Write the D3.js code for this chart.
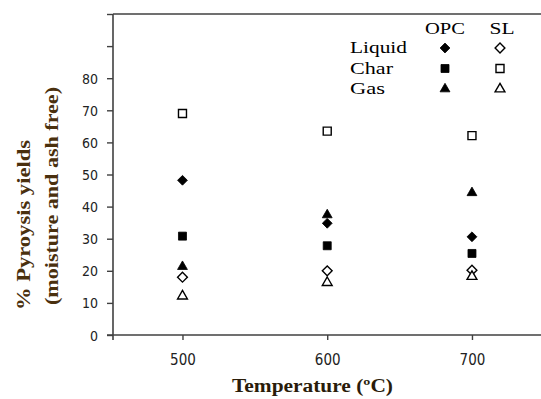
<!DOCTYPE html>
<html>
<head>
<meta charset="utf-8">
<script src="https://cdn.jsdelivr.net/npm/d3@7"></script>
<style>
body { margin: 0; background: #fff; }
svg { display: block; }
</style>
</head>
<body>
<svg width="541" height="399"></svg>
<script>
var temps = [500, 600, 700];
var opcLiquid = [48.2, 34.8, 30.6];
var opcChar = [30.8, 27.8, 25.4];
var opcGas = [21.3, 37.4, 44.3];
var slLiquid = [18.0, 20.0, 20.2];
var slChar = [69.0, 63.5, 62.1];
var slGas = [12.1, 16.3, 18.2];
var yTicks = [0, 10, 20, 30, 40, 50, 60, 70, 80, 90, 100];
var yLabels = [0, 10, 20, 30, 40, 50, 60, 70, 80];
var xTicks = [500, 600, 700];

var svg = d3.select("svg");
var axisColor = "#404040";
var serif = "'Liberation Serif', 'Times New Roman', Times, serif";
var narrow = "'Liberation Sans Narrow', 'Arial Narrow', 'DejaVu Sans Condensed', sans-serif";

var x = d3.scaleLinear().domain([452, 747]).range([113, 540]);
var y = d3.scaleLinear().domain([0, 100]).range([335, 14]);

// frame lines
svg.append("line")
    .attr("x1", x(452)).attr("x2", x(452))
    .attr("y1", y(100)).attr("y2", y(0) + 5)
    .attr("stroke", axisColor).attr("stroke-width", 1.6);
svg.append("line")
    .attr("x1", x(452) - 6).attr("x2", 541)
    .attr("y1", y(0)).attr("y2", y(0))
    .attr("stroke", axisColor).attr("stroke-width", 1.6);
svg.append("line")
    .attr("x1", x(452)).attr("x2", 541)
    .attr("y1", y(100)).attr("y2", y(100))
    .attr("stroke", axisColor).attr("stroke-width", 1.6);

var yAxis = svg.append("g")
    .attr("transform", "translate(" + x(452) + ",0)")
    .call(d3.axisLeft(y).tickValues(yTicks).tickSize(6).tickSizeOuter(0)
        .tickFormat(function(d) { return yLabels.indexOf(d) >= 0 ? d : ""; }));
yAxis.select(".domain").remove();
yAxis.selectAll(".tick line").attr("stroke", axisColor).attr("stroke-width", 1.4);
yAxis.selectAll(".tick text")
    .attr("x", -15)
    .attr("dy", "0.36em")
    .style("font-family", narrow)
    .style("font-size", "14px")
    .attr("fill", "#222");

var xAxis = svg.append("g")
    .attr("transform", "translate(0," + y(0) + ")")
    .call(d3.axisBottom(x).tickValues(xTicks).tickSize(5).tickSizeOuter(0));
xAxis.select(".domain").remove();
xAxis.selectAll(".tick line").attr("stroke", axisColor).attr("stroke-width", 1.4);
xAxis.selectAll(".tick text")
    .attr("y", 19)
    .attr("dy", "0.71em")
    .style("font-family", narrow)
    .style("font-size", "15px")
    .attr("fill", "#222");

// axis titles
svg.append("text")
    .attr("x", 232).attr("y", 392)
    .attr("textLength", 161).attr("lengthAdjust", "spacingAndGlyphs")
    .style("font-family", serif)
    .style("font-weight", "bold")
    .style("font-size", "18px")
    .attr("fill", "#2a1c0a")
    .text("Temperature (\u00baC)");

svg.append("text")
    .attr("transform", "translate(30,310) rotate(-90)")
    .attr("textLength", 170).attr("lengthAdjust", "spacingAndGlyphs")
    .style("font-family", serif)
    .style("font-weight", "bold")
    .style("font-size", "18px")
    .attr("fill", "#4a300e")
    .text("% Pyroysis yields");

svg.append("text")
    .attr("transform", "translate(58,305) rotate(-90)")
    .attr("textLength", 218).attr("lengthAdjust", "spacingAndGlyphs")
    .style("font-family", serif)
    .style("font-weight", "bold")
    .style("font-size", "18px")
    .attr("fill", "#4a300e")
    .text("(moisture and ash free)");

// markers
var diamond = d3.symbol().type(d3.symbolSquare).size(48)();
var square = d3.symbol().type(d3.symbolSquare).size(64)();
var triangle = d3.symbol().type(d3.symbolTriangle).size(42)();

var series = [
    {vals: opcLiquid, path: diamond, rot: 45, filled: true},
    {vals: opcChar, path: square, rot: 0, filled: true},
    {vals: opcGas, path: triangle, rot: 0, filled: true},
    {vals: slLiquid, path: diamond, rot: 45, filled: false},
    {vals: slChar, path: square, rot: 0, filled: false},
    {vals: slGas, path: triangle, rot: 0, filled: false}
];

function drawMarker(g, s, cx, cy) {
    g.append("path")
        .attr("d", s.path)
        .attr("transform", "translate(" + cx + "," + cy + ") rotate(" + s.rot + ")")
        .attr("fill", s.filled ? "#000" : "#fff")
        .attr("stroke", "#000")
        .attr("stroke-width", s.filled ? 0.8 : 1.4);
}

var marks = svg.append("g");
// hollow first so filled markers sit on top
[3, 4, 5, 0, 1, 2].forEach(function(i) {
    var s = series[i];
    temps.forEach(function(t, j) {
        drawMarker(marks, s, x(t), y(s.vals[j]));
    });
});

// legend
var leg = svg.append("g");
var headers = [{t: "OPC", x: 445, w: 40}, {t: "SL", x: 502, w: 25}];
headers.forEach(function(h) {
    leg.append("text")
        .attr("x", h.x - h.w / 2).attr("y", 34)
        .attr("textLength", h.w).attr("lengthAdjust", "spacingAndGlyphs")
        .style("font-family", serif).style("font-size", "17px")
        .text(h.t);
});
var rows = [{t: "Liquid", y: 48, w: 57}, {t: "Char", y: 68.5, w: 43}, {t: "Gas", y: 89, w: 35}];
rows.forEach(function(r, i) {
    leg.append("text")
        .attr("x", 350).attr("y", r.y + 5)
        .attr("textLength", r.w).attr("lengthAdjust", "spacingAndGlyphs")
        .style("font-family", serif).style("font-size", "17px")
        .text(r.t);
    drawMarker(leg, series[i], 445, r.y);
    drawMarker(leg, series[i + 3], 500, r.y);
});
</script>
</body>
</html>
